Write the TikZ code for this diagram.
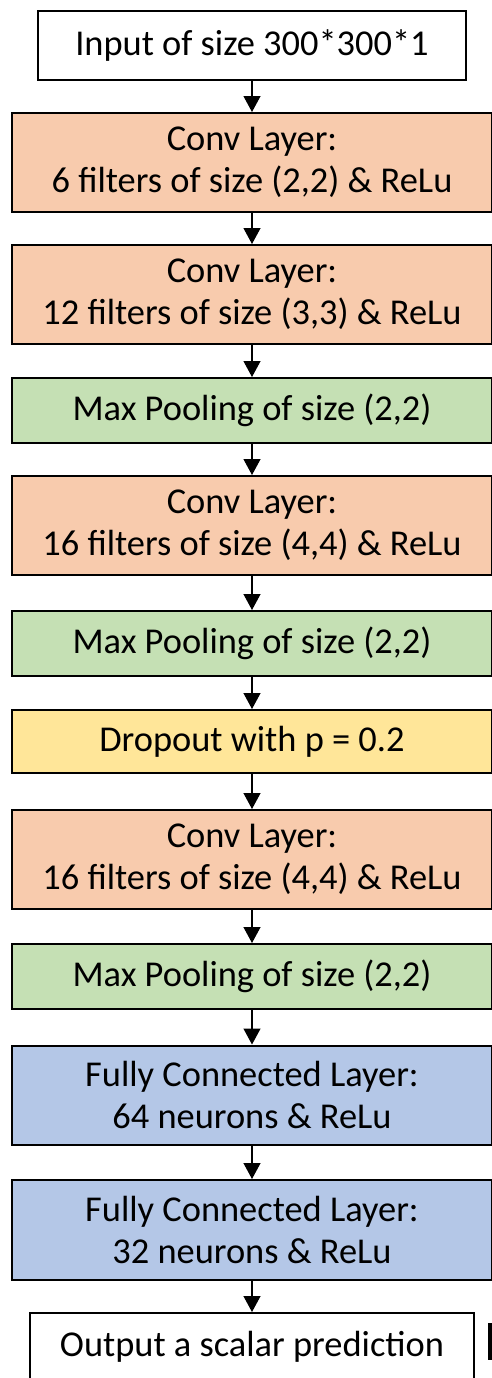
\documentclass[tikz,border=0pt]{standalone}
\usepackage{fontspec}
\setmainfont{Carlito}
\usetikzlibrary{arrows.meta}
\definecolor{convfill}{HTML}{F8CBAD}
\definecolor{poolfill}{HTML}{C5E0B4}
\definecolor{dropfill}{HTML}{FFE699}
\definecolor{densefill}{HTML}{B4C7E7}
\begin{document}
\begin{tikzpicture}[x=0.5pt,y=-0.5pt,
  layer/.style={draw=black, line width=1pt, align=center, inner sep=0pt,
    font=\fontsize{18.2}{21}\selectfont},
  wide/.style={layer, minimum width=240pt},
  conv/.style={wide, fill=convfill, minimum height=49.5pt},
  pool/.style={wide, fill=poolfill, minimum height=32.5pt},
  drop/.style={wide, fill=dropfill, minimum height=31.5pt},
  dense/.style={wide, fill=densefill, minimum height=49.5pt},
  io/.style={layer, fill=white},
  arr/.style={line width=0.6pt, -{Triangle[width=8.5pt,length=8pt]}}]
\useasboundingbox (0,0) rectangle (492,1378);
\clip (0,0) rectangle (492,1378);
\fill[white] (0,0) rectangle (492,1378);

% layers, top to bottom
\node[io, minimum width=214pt, minimum height=34.5pt] (in) at (252,45.5) {Input of size 300*300*1};
\node[conv] (c1) at (252,162.5) {Conv Layer:\\6 filters of size (2,2) \& ReLu};
\node[conv] (c2) at (252,294.5) {Conv Layer:\\12 filters of size (3,3) \& ReLu};
\node[pool] (p1) at (252,410.5) {Max Pooling of size (2,2)};
\node[conv] (c3) at (252,525.5) {Conv Layer:\\16 filters of size (4,4) \& ReLu};
\node[pool] (p2) at (252,643.5) {Max Pooling of size (2,2)};
\node[drop] (dr) at (252,741.5) {Dropout with p = 0.2};
\node[conv] (c4) at (252,859.5) {Conv Layer:\\16 filters of size (4,4) \& ReLu};
\node[pool] (p3) at (252,976.5) {Max Pooling of size (2,2)};
\node[dense] (f1) at (252,1095) {Fully Connected Layer:\\64 neurons \& ReLu};
\node[dense, minimum height=50pt] (f2) at (252,1230) {Fully Connected Layer:\\32 neurons \& ReLu};
\node[io, minimum width=222pt, minimum height=34pt] (out) at (252,1347) {Output a scalar prediction};

% flow arrows
\foreach \a/\b in {in/c1, c1/c2, c2/p1, p1/c3, c3/p2, p2/dr, dr/c4, c4/p3, p3/f1, f1/f2, f2/out}
  \draw[arr] (\a.south) -- (\b.north);

% stray mark at the lower right edge
\fill[black] (488,1323) rectangle (493,1360);
\end{tikzpicture}
\end{document}
